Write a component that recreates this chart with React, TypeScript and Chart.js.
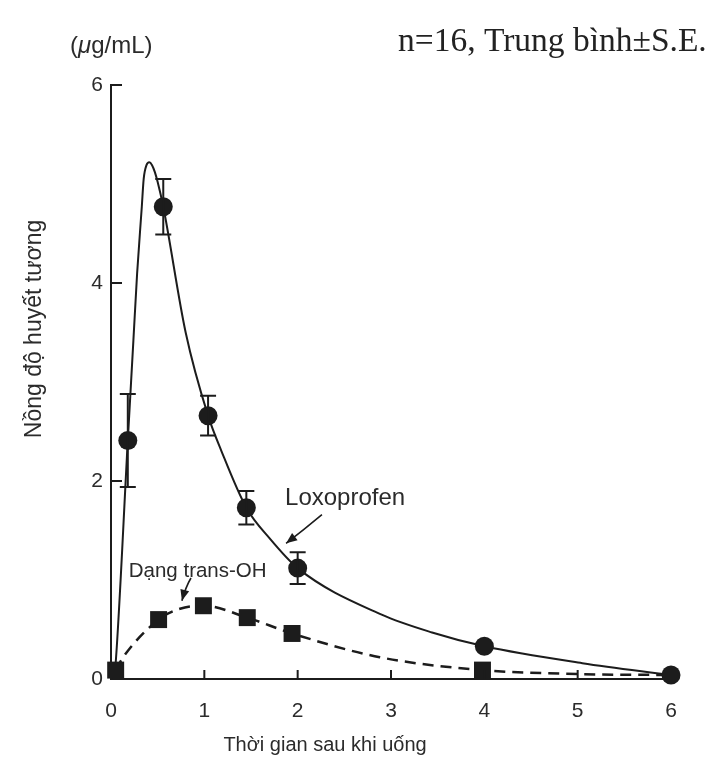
import React, { useEffect, useRef } from "react";
import { Chart, registerables } from "chart.js";

Chart.register(...registerables);

// ---- data ----
const xTickValues = [0, 1, 2, 3, 4, 5, 6];
const yTickValues = [0, 2, 4, 6];

// Loxoprofen (circles), mean ± S.E.
const loxoTimes = [0.18, 0.56, 1.04, 1.45, 2.0, 4.0, 6.0];
const loxoMeans = [2.41, 4.77, 2.66, 1.73, 1.12, 0.33, 0.04];
const loxoSE = [0.47, 0.28, 0.2, 0.17, 0.16, 0, 0];

// trans-OH metabolite (squares)
const transTimes = [0.05, 0.51, 0.99, 1.46, 1.94, 3.98];
const transMeans = [0.09, 0.6, 0.74, 0.62, 0.46, 0.09];

// fitted curves
const loxoCurveX = [0.03, 0.05, 0.18, 0.24, 0.28, 0.33, 0.35, 0.38, 0.41, 0.44, 0.47, 0.5, 0.56, 0.8, 1.04, 1.18, 1.45, 1.7, 2.0, 2.9, 3.44, 4.0, 5.05, 6.0];
const loxoCurveY = [0.0, 0.16, 2.41, 3.42, 4.1, 4.77, 5.05, 5.19, 5.22, 5.19, 5.12, 5.02, 4.77, 3.5, 2.66, 2.31, 1.73, 1.42, 1.12, 0.65, 0.47, 0.33, 0.16, 0.04];
const transCurveX = [0.05, 0.13, 0.51, 0.74, 0.99, 1.46, 1.94, 2.88, 3.98, 5.0, 6.0];
const transCurveY = [0.09, 0.22, 0.6, 0.71, 0.74, 0.62, 0.46, 0.22, 0.09, 0.05, 0.04];

const topNote = "n=16, Trung bình±S.E.";
const unitLabel = ["(", "μ", "g/mL)"];
const yTitle = "Nồng độ huyết tương";
const xTitle = "Thời gian sau khi uống";
const loxoName = "Loxoprofen";
const transName = "Dạng trans-OH";

const SANS = "'Liberation Sans', Arial, Helvetica, sans-serif";
const SERIF = "'Liberation Serif', 'Times New Roman', serif";
const INK = "#1c1c1c";
const TEXT = "#2b2b2b";

function zip(xs: number[], ys: number[]) {
  return xs.map((x, i) => ({ x, y: ys[i] }));
}

function arrow(ctx: CanvasRenderingContext2D, x1: number, y1: number, cx: number, cy: number, x2: number, y2: number) {
  ctx.save();
  ctx.strokeStyle = INK;
  ctx.fillStyle = INK;
  ctx.lineWidth = 1.6;
  ctx.beginPath();
  ctx.moveTo(x1, y1);
  ctx.quadraticCurveTo(cx, cy, x2, y2);
  ctx.stroke();
  const ang = Math.atan2(y2 - cy, x2 - cx);
  const L = 11, W = 4.5;
  ctx.beginPath();
  ctx.moveTo(x2, y2);
  ctx.lineTo(x2 - L * Math.cos(ang) + W * Math.sin(ang), y2 - L * Math.sin(ang) - W * Math.cos(ang));
  ctx.lineTo(x2 - L * Math.cos(ang) - W * Math.sin(ang), y2 - L * Math.sin(ang) + W * Math.cos(ang));
  ctx.closePath();
  ctx.fill();
  ctx.restore();
}

const decorPlugin = {
  id: "decor",
  afterDatasetsDraw(chart: any) {
    const { ctx, scales } = chart;
    const xs = scales.x, ys = scales.y;
    const area = chart.chartArea;
    ctx.save();
    // error bars
    ctx.strokeStyle = INK;
    ctx.lineWidth = 2;
    loxoTimes.forEach((t, i) => {
      const se = loxoSE[i];
      if (!se) return;
      const px = xs.getPixelForValue(t);
      const top = ys.getPixelForValue(loxoMeans[i] + se);
      const bot = ys.getPixelForValue(loxoMeans[i] - se);
      ctx.beginPath();
      ctx.moveTo(px, top);
      ctx.lineTo(px, bot);
      ctx.moveTo(px - 8, top);
      ctx.lineTo(px + 8, top);
      ctx.moveTo(px - 8, bot);
      ctx.lineTo(px + 8, bot);
      ctx.stroke();
    });
    // inward tick marks
    ctx.lineWidth = 2;
    xTickValues.forEach((v) => {
      if (v === 0) return;
      const px = xs.getPixelForValue(v);
      ctx.beginPath();
      ctx.moveTo(px, area.bottom);
      ctx.lineTo(px, area.bottom - 9);
      ctx.stroke();
    });
    yTickValues.forEach((v) => {
      if (v === 0) return;
      const py = ys.getPixelForValue(v);
      ctx.beginPath();
      ctx.moveTo(area.left, py);
      ctx.lineTo(area.left + 11, py);
      ctx.stroke();
    });

    // annotations
    ctx.fillStyle = TEXT;
    ctx.textBaseline = "middle";
    ctx.textAlign = "left";
    ctx.font = `24px ${SANS}`;
    ctx.fillText(loxoName, xs.getPixelForValue(1.865), ys.getPixelForValue(1.82));
    ctx.font = `20.5px ${SANS}`;
    ctx.fillText(transName, xs.getPixelForValue(0.19), ys.getPixelForValue(1.09));
    arrow(ctx,
      xs.getPixelForValue(2.26), ys.getPixelForValue(1.66),
      xs.getPixelForValue(2.07), ys.getPixelForValue(1.51),
      xs.getPixelForValue(1.876), ys.getPixelForValue(1.37));
    arrow(ctx,
      xs.getPixelForValue(0.857), ys.getPixelForValue(1.02),
      xs.getPixelForValue(0.8), ys.getPixelForValue(0.93),
      xs.getPixelForValue(0.76), ys.getPixelForValue(0.79));

    // titles
    ctx.textAlign = "center";
    ctx.font = `20px ${SANS}`;
    ctx.fillText(xTitle, 317, 737);
    ctx.save();
    ctx.translate(27, 321);
    ctx.rotate(-Math.PI / 2);
    ctx.font = `23px ${SANS}`;
    ctx.fillText(yTitle, 0, 0);
    ctx.restore();

    // unit label with italic mu
    ctx.textAlign = "left";
    let ux = 62;
    const uy = 38;
    ctx.font = `24px ${SANS}`;
    ctx.fillText(unitLabel[0], ux, uy);
    ux += ctx.measureText(unitLabel[0]).width;
    ctx.font = `italic 24px ${SANS}`;
    ctx.fillText(unitLabel[1], ux, uy);
    ux += ctx.measureText(unitLabel[1]).width;
    ctx.font = `24px ${SANS}`;
    ctx.fillText(unitLabel[2], ux, uy);

    // top note (serif)
    ctx.textBaseline = "alphabetic";
    ctx.font = `33.5px ${SERIF}`;
    ctx.fillStyle = "#222";
    ctx.fillText(topNote, 390, 43);
    ctx.restore();
  },
};

export default function App() {
  const ref = useRef<HTMLCanvasElement | null>(null);
  useEffect(() => {
    if (!ref.current) return;
    const chart = new Chart(ref.current, {
      type: "scatter",
      data: {
        datasets: [
          {
            label: "Loxoprofen",
            data: zip(loxoTimes, loxoMeans),
            showLine: false,
            clip: false,
            pointStyle: "circle",
            pointRadius: 9.5,
            pointBackgroundColor: INK,
            pointBorderColor: INK,
            pointBorderWidth: 0,
          },
          {
            label: "Dạng trans-OH",
            data: zip(transTimes, transMeans),
            showLine: false,
            clip: false,
            pointStyle: "rect",
            pointRadius: 12,
            pointBackgroundColor: INK,
            pointBorderColor: INK,
            pointBorderWidth: 0,
          },
          {
            label: "Loxoprofen fit",
            data: zip(loxoCurveX, loxoCurveY),
            showLine: true,
            borderColor: INK,
            borderWidth: 2,
            pointRadius: 0,
            cubicInterpolationMode: "monotone",
            fill: false,
          },
          {
            label: "trans-OH fit",
            data: zip(transCurveX, transCurveY),
            showLine: true,
            borderColor: INK,
            borderWidth: 2.5,
            borderDash: [11, 7],
            pointRadius: 0,
            cubicInterpolationMode: "monotone",
            fill: false,
          },
        ] as any,
      },
      options: {
        animation: false,
        responsive: true,
        maintainAspectRatio: false,
        layout: { padding: { left: 0, top: 77, right: 34, bottom: 0 } },
        plugins: { legend: { display: false }, tooltip: { enabled: false } },
        scales: {
          x: {
            type: "linear",
            min: 0,
            max: 6,
            afterFit: (s: any) => { s.height = 76; },
            afterBuildTicks: (s: any) => { s.ticks = xTickValues.map((v) => ({ value: v })); },
            ticks: { stepSize: 1, padding: 20, color: TEXT, font: { family: SANS, size: 21 } },
            grid: { display: false, drawTicks: false },
            border: { display: true, color: INK, width: 2 },
          },
          y: {
            type: "linear",
            min: 0,
            max: 6,
            afterFit: (s: any) => { s.width = 103; },
            afterBuildTicks: (s: any) => { s.ticks = yTickValues.map((v) => ({ value: v })); },
            ticks: { stepSize: 2, padding: 8, color: TEXT, font: { family: SANS, size: 21 } },
            grid: { display: false, drawTicks: false },
            border: { display: true, color: INK, width: 2 },
          },
        },
      } as any,
      plugins: [decorPlugin],
    });
    return () => chart.destroy();
  }, []);
  return (
    <div style={{ position: "relative", width: 697, height: 747 }}>
      <canvas ref={ref} />
    </div>
  );
}
